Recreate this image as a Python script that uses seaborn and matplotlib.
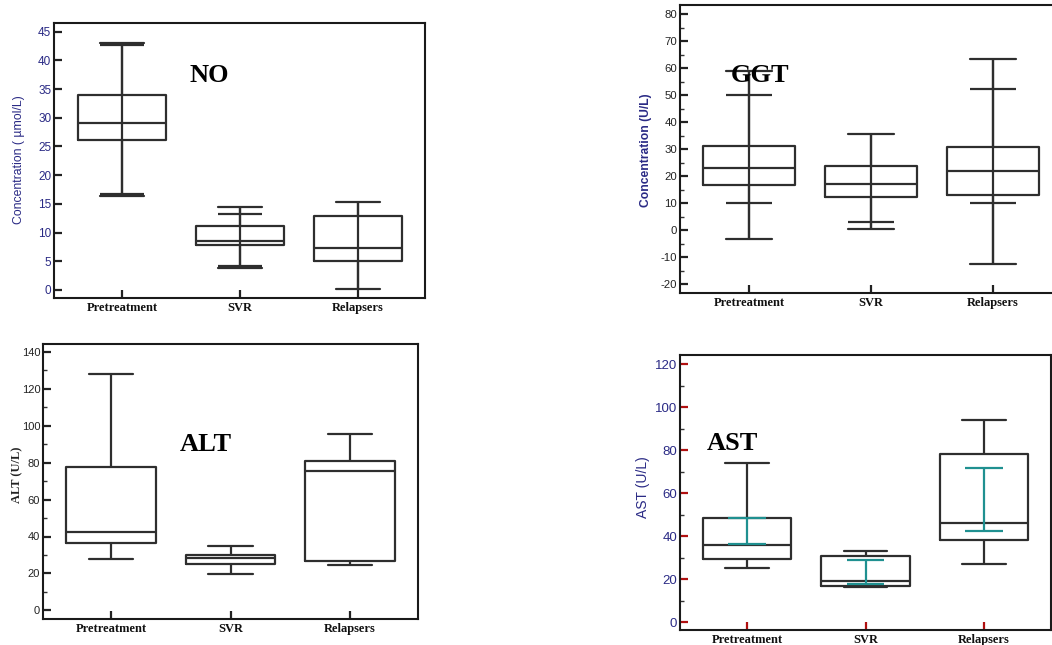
import numpy as np
import pandas as pd
import seaborn as sns
import matplotlib.pyplot as plt
from matplotlib.ticker import MultipleLocator

groups = ["Pretreatment", "SVR", "Relapsers"]

# NO (µmol/L): five-number summaries
no_min = [16.4, 3.8, 0.1]
no_q1 = [26.1, 7.8, 5.1]
no_med = [29.0, 8.6, 7.3]
no_q3 = [33.9, 11.1, 12.8]
no_max = [43.1, 14.5, 15.3]
no_inner_hi = [42.6, 13.2, np.nan]
no_inner_lo = [16.7, 4.1, np.nan]

# GGT (U/L)
ggt_min = [-3.4, 0.5, -12.5]
ggt_q1 = [16.6, 12.4, 12.9]
ggt_med = [23.2, 17.3, 22.1]
ggt_q3 = [31.2, 23.9, 30.7]
ggt_max = [59.2, 35.7, 63.4]
ggt_inner_hi = [50.0, np.nan, 52.3]
ggt_inner_lo = [10.0, 3.0, 10.0]

# ALT (U/L)
alt_min = [28.0, 19.5, 24.4]
alt_q1 = [36.3, 24.9, 26.7]
alt_med = [42.4, 28.2, 75.5]
alt_q3 = [77.9, 30.0, 80.9]
alt_max = [127.9, 34.9, 95.7]

# AST (U/L)
ast_min = [25.0, 16.1, 27.0]
ast_q1 = [29.2, 16.6, 38.0]
ast_med = [35.7, 18.9, 46.0]
ast_q3 = [48.6, 30.6, 78.1]
ast_max = [73.9, 32.9, 93.9]
ast_ci_lo = [36.3, 17.5, 42.2]
ast_ci_hi = [48.3, 29.0, 71.7]

W, H = 1052, 645
sns.set_theme(style="ticks")
plt.rcParams["font.family"] = ["Liberation Sans", "DejaVu Sans"]
plt.rcParams["axes.unicode_minus"] = False

fig = plt.figure(figsize=(W / 100, H / 100), dpi=100)

NAVY = "#2a2a85"
LINE = "#2e2e2e"
TEAL = "#1f9090"
RED = "#b01010"
SERIF = ["Liberation Serif", "DejaVu Serif"]


def five_frame(mins, q1s, meds, q3s, maxs):
    rows = []
    for g, a, b, c, d, e in zip(groups, mins, q1s, meds, q3s, maxs):
        for v in (a, b, c, d, e):
            rows.append((g, v))
    return pd.DataFrame(rows, columns=["group", "value"])


def make_ax(px_left, px_top, px_right, px_bottom):
    return fig.add_axes([px_left / W, 1 - px_bottom / H,
                         (px_right - px_left) / W, (px_bottom - px_top) / H])


def draw_box(ax, frame, lw=1.6):
    sns.boxplot(data=frame, x="group", y="value", order=groups, ax=ax,
                whis=(0, 100), width=0.75, fill=False, color=LINE,
                linewidth=lw, showfliers=False, capwidths=0.37)


def style_ax(ax, xlim, ylim, ymajor, yminor, tick_color, lab_color, lab_size,
             xtick_color="#222222"):
    ax.set_xlim(*xlim)
    ax.set_ylim(*ylim)
    ax.yaxis.set_major_locator(MultipleLocator(ymajor))
    if yminor:
        ax.yaxis.set_minor_locator(MultipleLocator(yminor))
    ax.set_xticks(range(len(groups)))
    ax.set_xticklabels(groups, family=SERIF, fontweight="bold", fontsize=9,
                       color="#111111")
    ax.tick_params(axis="y", which="major", direction="in", length=5.5,
                   width=1.6, color=tick_color, labelsize=lab_size,
                   labelcolor=lab_color, pad=2)
    ax.tick_params(axis="y", which="minor", direction="in", length=3,
                   width=1.0, color="#333333")
    ax.tick_params(axis="x", which="major", direction="in", length=5.5,
                   width=1.6, color=xtick_color, pad=3)
    for s in ax.spines.values():
        s.set_linewidth(1.5)
        s.set_color("#1a1a1a")
    ax.set_xlabel("")
    ax.grid(False)


def caps(ax, ys, w=0.37, color=LINE, lw=1.6):
    xs = np.arange(len(groups))
    ys = np.asarray(ys, dtype=float)
    ok = ~np.isnan(ys)
    ax.hlines(ys[ok], xs[ok] - w / 2, xs[ok] + w / 2, color=color, lw=lw,
              zorder=3)


def panel_title(ax, x, y, s):
    ax.text(x, y, s, family=SERIF, fontweight="bold", fontsize=19,
            color="black", ha="center", va="center", zorder=5)


# ---------------- NO ----------------
ax1 = make_ax(54, 23, 425, 298)
draw_box(ax1, five_frame(no_min, no_q1, no_med, no_q3, no_max))
ax1.vlines(np.arange(3), no_min, no_max, color=LINE, lw=1.6, zorder=2)
caps(ax1, no_inner_hi)
caps(ax1, no_inner_lo)
style_ax(ax1, (-0.576, 2.57), (-1.4, 46.5), 5, None, "#222222", NAVY, 8.5)
ax1.set_ylabel("Concentration ( µmol/L)", color=NAVY, fontsize=8.8)
ax1.yaxis.set_label_coords(-0.078, 0.502)
panel_title(ax1, 0.74, 37.3, "NO")

# ---------------- GGT ----------------
ax2 = make_ax(680, 5, 1060, 293)
draw_box(ax2, five_frame(ggt_min, ggt_q1, ggt_med, ggt_q3, ggt_max))
ax2.vlines(np.arange(3), ggt_min, ggt_max, color=LINE, lw=1.6, zorder=2)
caps(ax2, ggt_inner_hi)
caps(ax2, ggt_inner_lo)
style_ax(ax2, (-0.566, 2.549), (-23.3, 83.5), 10, 5, "#222222", "#222222", 8.2)
ax2.set_ylabel("Concentration (U/L)", color=NAVY, fontsize=8.7,
               fontweight="bold")
ax2.yaxis.set_label_coords(-0.074, 0.497)
panel_title(ax2, 0.094, 57.2, "GGT")

# ---------------- ALT ----------------
ax3 = make_ax(43, 344, 418, 619)
draw_box(ax3, five_frame(alt_min, alt_q1, alt_med, alt_q3, alt_max))
style_ax(ax3, (-0.57, 2.57), (-4.7, 144.3), 20, 10, "#222222", "#222222", 8.0)
ax3.set_ylabel("ALT (U/L)", family=SERIF, fontweight="bold", fontsize=9,
               color="#222222")
ax3.yaxis.set_label_coords(-0.053, 0.524)
panel_title(ax3, 0.795, 90, "ALT")

# ---------------- AST ----------------
ax4 = make_ax(680, 355, 1051, 630)
draw_box(ax4, five_frame(ast_min, ast_q1, ast_med, ast_q3, ast_max))
ax4.vlines(np.arange(3), ast_ci_lo, ast_ci_hi, color=TEAL, lw=1.6, zorder=3)
caps(ax4, ast_ci_lo, w=0.32, color=TEAL)
caps(ax4, ast_ci_hi, w=0.32, color=TEAL)
style_ax(ax4, (-0.565, 2.565), (-3.7, 124.2), 20, 10, RED, NAVY, 9.5,
         xtick_color=RED)
ax4.set_ylabel("AST (U/L)", color=NAVY, fontsize=10)
ax4.yaxis.set_label_coords(-0.081, 0.52)
panel_title(ax4, -0.12, 83, "AST")

fig.savefig("out.png", dpi=100, facecolor="white")
